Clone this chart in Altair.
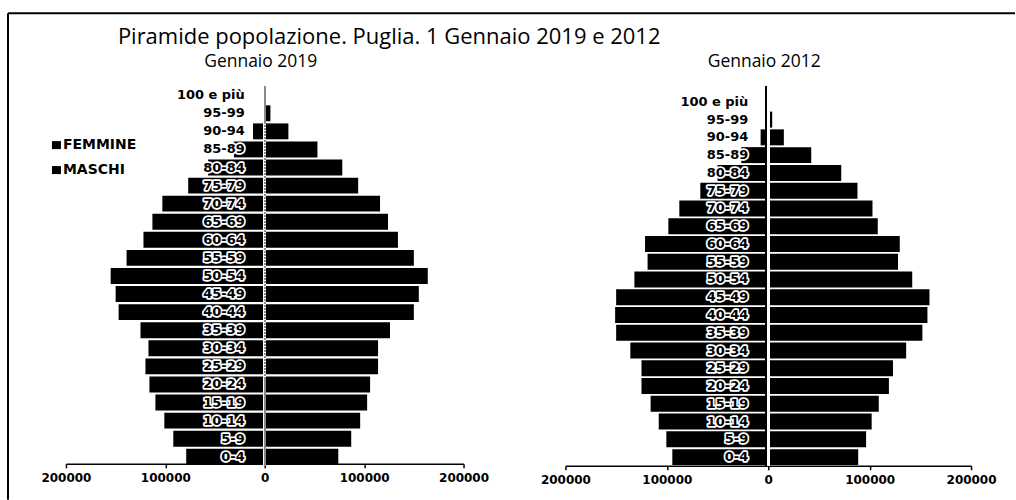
import altair as alt
import pandas as pd

# Age classes, oldest at the top of the pyramid
ages = ["100 e più", "95-99", "90-94", "85-89", "80-84", "75-79", "70-74",
        "65-69", "60-64", "55-59", "50-54", "45-49", "40-44", "35-39",
        "30-34", "25-29", "20-24", "15-19", "10-14", "5-9", "0-4"]

# Residents by age class, 1 January 2019 (left side / right side)
maschi_2019 = [500, 1700, 11800, 31000, 57000, 77000, 103000, 113000, 122000,
               139000, 155000, 150000, 147000, 125000, 117000, 120000, 116000,
               110000, 101000, 92000, 79000]
femmine_2019 = [1000, 5700, 23800, 53000, 78000, 94000, 116000, 124000, 134000,
                150000, 164000, 155000, 150000, 126000, 114000, 114000, 106000,
                103000, 96000, 87000, 74000]

# Residents by age class, 1 January 2012
maschi_2012 = [400, 1600, 7500, 26600, 50000, 67000, 87700, 98500, 121500,
               119000, 132000, 150000, 151000, 150000, 136000, 125000, 125000,
               116000, 108000, 100500, 94600]
femmine_2012 = [300, 3900, 15400, 42400, 72000, 88000, 102800, 108000, 129700,
                128000, 142000, 159000, 157000, 152000, 136000, 123000, 119000,
                109000, 102000, 96500, 88700]

tick_values = [-200000, -100000, 0, 100000, 200000]

LABEL_FONT = "DejaVu Sans"
TITLE_FONT = "Open Sans"


def pyramid(maschi, femmine, width, y_scale, axis_offset, zero_style):
    df = pd.DataFrame({
        "age": ages * 2,
        "sesso": ["MASCHI"] * len(ages) + ["FEMMINE"] * len(ages),
        "v": [-m for m in maschi] + list(femmine),
    })
    x_enc = alt.X(
        "v:Q",
        scale=alt.Scale(domain=[-200000, 200000], nice=False, zero=False),
        axis=alt.Axis(
            values=tick_values,
            labelExpr="format(abs(datum.value), 'd')",
            grid=False, title=None, orient="bottom", offset=axis_offset,
            domainColor="black", domainWidth=1.5,
            tickColor="black", tickSize=4, tickWidth=1.5,
            labelFont=LABEL_FONT, labelFontWeight="bold", labelFontSize=12,
            labelColor="black", labelPadding=5, labelOverlap=False,
            labelFlush=False,
        ),
    )
    y_enc = alt.Y("age:N", sort=ages, axis=None, scale=y_scale)

    bars = alt.Chart(df).mark_bar(color="black").encode(x=x_enc, y=y_enc)

    gap = alt.Chart(df).mark_rule(color="white", strokeWidth=2.5).encode(
        x=alt.datum(0))
    if zero_style == "dotted":
        zero = alt.Chart(df).mark_rule(
            color="#8a8a8a", strokeWidth=1.3, strokeDash=[2, 1]
        ).encode(x=alt.datum(0))
    else:
        zero = alt.Chart(df).mark_rule(
            color="black", strokeWidth=1.2, xOffset=-2
        ).encode(x=alt.datum(0))

    lab_df = pd.DataFrame({"age": ages})
    halo = alt.Chart(lab_df).mark_text(
        align="right", baseline="middle", dx=-20, font=LABEL_FONT,
        fontWeight="bold", fontSize=13, color="white", stroke="white",
        strokeWidth=3.5, strokeJoin="round",
    ).encode(x=alt.datum(0), y=alt.Y("age:N", sort=ages), text="age:N")
    labels = alt.Chart(lab_df).mark_text(
        align="right", baseline="middle", dx=-20, font=LABEL_FONT,
        fontWeight="bold", fontSize=13, color="black",
    ).encode(x=alt.datum(0), y=alt.Y("age:N", sort=ages), text="age:N")

    return alt.layer(bars, gap, zero, halo, labels).properties(
        width=width, height=380)


def note(text, x, y, size, weight="normal", font=TITLE_FONT, align="left"):
    return alt.Chart(pd.DataFrame({"t": [text]})).mark_text(
        align=align, baseline="middle", font=font, fontSize=size,
        fontWeight=weight, color="black",
    ).encode(x=alt.value(x), y=alt.value(y), text="t:N")


def swatch(y):
    return alt.Chart(pd.DataFrame({"k": [0]})).mark_rect(color="black").encode(
        x=alt.value(-14), x2=alt.value(-5), y=alt.value(y - 4),
        y2=alt.value(y + 4))


left = pyramid(
    maschi_2019, femmine_2019, 398,
    alt.Scale(paddingInner=0.12, paddingOuter=0.06), -2, "dotted")
right = pyramid(
    maschi_2012, femmine_2012, 406,
    alt.Scale(paddingInner=0.1, paddingOuter=0.235, align=0.92), 0, "solid")

# Frame lines, title, panel headings and legend
frame_top = alt.Chart(pd.DataFrame({"k": [0]})).mark_rule(
    color="black", strokeWidth=2).encode(
    x=alt.value(-58), x2=alt.value(950), y=alt.value(-73))
frame_left = alt.Chart(pd.DataFrame({"k": [0]})).mark_rule(
    color="black", strokeWidth=2).encode(
    x=alt.value(-58), y=alt.value(-73), y2=alt.value(414))

left = alt.layer(
    left,
    frame_top, frame_left,
    note("Piramide popolazione. Puglia. 1 Gennaio 2019 e 2012", 52, -49, 22),
    note("Gennaio 2019", 195, -24, 17.5, align="center"),
    swatch(59), note("FEMMINE", -3, 59, 14, weight="bold", font=LABEL_FONT),
    swatch(84), note("MASCHI", -3, 84, 14, weight="bold", font=LABEL_FONT),
)
right = alt.layer(
    right,
    note("Gennaio 2012", 199, -24, 17.5, align="center"),
)

chart = alt.hconcat(left, right, spacing=102, bounds="flush").properties(
    padding={"left": 7, "top": 12, "right": 0, "bottom": 0},
).configure(background="white").configure_view(stroke=None)

chart.save("out.html", embed_options={"renderer": "svg", "actions": False})
